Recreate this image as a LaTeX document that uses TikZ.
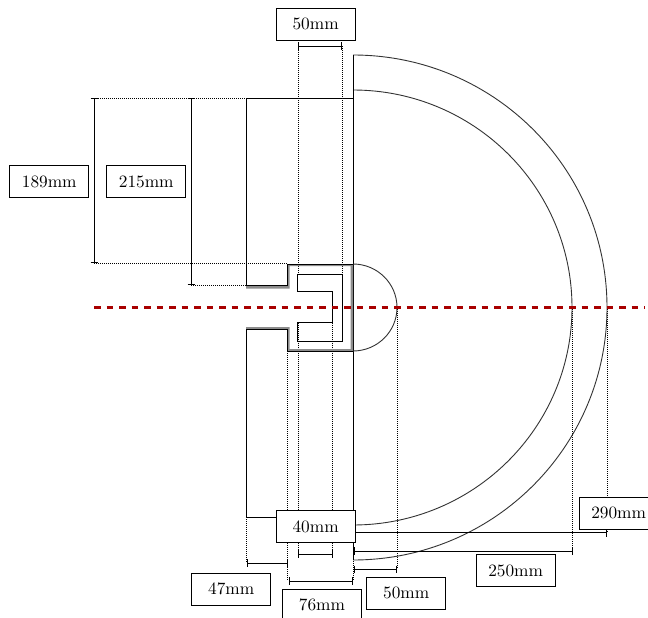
\documentclass[tikz,border=0pt]{standalone}
\definecolor{axisred}{HTML}{A80000}
\newcommand{\dimtext}[1]{\scalebox{1.73}{\fontsize{10}{12}\selectfont #1}}
\tikzset{
  solidline/.style={draw=black,line width=0.9pt},
  greyline/.style={draw=black!80,line width=0.9pt},
  dotline/.style={draw=black,line width=0.8pt,dash pattern=on 1pt off 1pt},
  dimline/.style={draw=black,line width=0.9pt,|-|},
  dimbox/.style={draw=black,fill=white,line width=0.9pt,anchor=north west,minimum width=79pt,minimum height=32pt,inner sep=0pt},
  axisline/.style={draw=axisred,line width=3pt,dash pattern=on 6.5pt off 6pt}
}
\begin{document}
\begin{tikzpicture}[x=1pt,y=-1pt]
\clip (0,0) rectangle (648,618);
\useasboundingbox (0,0) rectangle (648,618);
\fill[white] (0,0) rectangle (648,618);
% dotted extension lines
\draw[dotline] (94,98.3) -- (246,98.3);
\draw[dotline] (94,263.5) -- (287.5,263.5);
\draw[dotline] (191,285) -- (246,285);
\draw[dotline] (298,46) -- (298,274.7);
\draw[dotline] (342.3,46) -- (342.3,274.7);
\draw[dotline] (298,322.7) -- (298,554);
\draw[dotline] (332.7,322.7) -- (332.7,554);
\draw[dotline] (287.7,351) -- (287.7,581);
\draw[dotline] (353.3,517) -- (353.3,581);
\draw[dotline] (246.8,517) -- (246.8,563);
\draw[dotline] (397,307) -- (397,569);
\draw[dotline] (572.5,307) -- (572.5,551);
\draw[dotline] (607,307) -- (607,533);
% body, open at the channel on its left side
\draw[solidline] (246,285.7) -- (246,98.3) -- (353,98.3) -- (353,517) -- (246,517) -- (246,329.5);
% grey band of the socket
\fill[black!45] (246,285.7) -- (287.5,285.7) -- (287.5,264) -- (353,264) -- (353,351) -- (287.5,351) -- (287.5,329.5) -- (246,329.5) -- (246,327) -- (289.5,327) -- (289.5,349) -- (350.7,349) -- (350.7,266) -- (289.5,266) -- (289.5,288.5) -- (246,288.5) -- cycle;
\draw[solidline] (246,285.7) -- (287.5,285.7) -- (287.5,264) -- (353,264);
\draw[solidline] (246,329.5) -- (287.5,329.5) -- (287.5,351) -- (353,351);
\draw[solidline] (297.7,274.7) -- (342.3,274.7) -- (342.3,341) -- (297.7,341) -- (297.7,322.7) -- (332.7,322.7) -- (332.7,291.3) -- (297.7,291.3) -- cycle;
% arcs
\coordinate (outerstart) at (353,55);
\coordinate (innerstart) at (353,90);
\coordinate (capstart) at (353,264);
\draw[greyline] (outerstart) arc[start angle=90,end angle=-90,x radius=254pt,y radius=252.5pt];
\draw[greyline] (innerstart) arc[start angle=90,end angle=-90,x radius=219pt,y radius=217.5pt];
\draw[greyline] (capstart) arc[start angle=90,end angle=-90,x radius=44pt,y radius=43.5pt];
\draw[solidline] (353,55) -- (353,98.3);
\draw[solidline] (353,517) -- (353,560);
% centre axis
\draw[axisline] (94,307) -- (645,307);
% dimensions
\draw[dimline] (298,46) -- (342.3,46);
\draw[dimline] (94.3,98.3) -- (94.3,263.3);
\draw[dimline] (191.3,98.3) -- (191.3,285);
\draw[dimline] (298.3,554) -- (333,554);
\draw[dimline] (247,563) -- (288,563);
\draw[dimline] (288.5,581) -- (353.3,581);
\draw[dimline] (353.7,569.3) -- (397,569.3);
\draw[dimline] (353.5,532.8) -- (607,532.8);
\draw[dimline] (353.5,551) -- (572.5,551);
% labels
\node[dimbox] (top50) at (275.7,7.7) {\dimtext{50mm}};
\node[dimbox] (d189) at (9.3,165.3) {\dimtext{189mm}};
\node[dimbox] (d215) at (106.3,165.3) {\dimtext{215mm}};
\node[dimbox] (d40) at (275.7,510.3) {\dimtext{40mm}};
\node[dimbox] (d47) at (191.3,572.7) {\dimtext{47mm}};
\node[dimbox] (d76) at (282,588.7) {\dimtext{76mm}};
\node[dimbox] (bot50) at (366.3,576.7) {\dimtext{50mm}};
\node[dimbox] (d250) at (475.7,554.3) {\dimtext{250mm}};
\node[dimbox] (d290) at (578.7,496.7) {\dimtext{290mm}};
\end{tikzpicture}
\end{document}
